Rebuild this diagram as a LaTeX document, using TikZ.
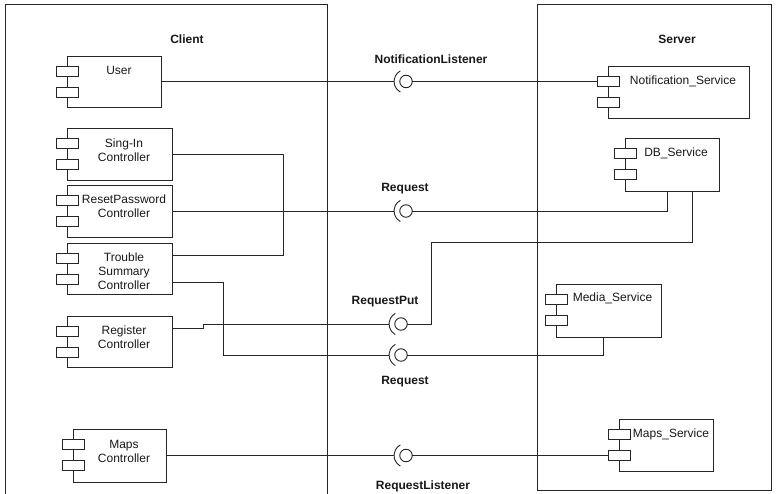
\documentclass[tikz,border=0pt]{standalone}
\usepackage{fontspec}
\setmainfont{Liberation Sans}
\usetikzlibrary{calc}
\tikzset{
 wire/.style={draw=black!85, line width=0.9pt},
 compbox/.style={draw=black!85, line width=0.9pt, fill=white, rectangle, inner sep=0pt, outer sep=0pt},
 port/.style={draw=black!85, line width=0.9pt, fill=white, rectangle, minimum width=22pt, minimum height=10pt, inner sep=0pt, outer sep=0pt},
 ctext/.style={font=\fontsize{12}{14}\selectfont, align=center, inner sep=0pt, text=black!90},
 ltext/.style={font=\fontsize{12}{14}\selectfont\bfseries, inner sep=0pt, text=black!90},
 ball/.style={circle, draw=black!85, line width=0.9pt, fill=white, minimum size=12.5pt, inner sep=0pt, outer sep=0pt},
 frame/.style={draw=black!85, line width=0.9pt, rectangle, inner sep=0pt, anchor=north west},
}
\newcommand\mycomp[8]{%
 \node[compbox, minimum width={(#4)-(#2)}, minimum height={(#5)-(#3)}] (#1) at ({((#2)+(#4))/2},{((#3)+(#5))/2}) {};
 \node[port] (#1-p1) at (#2,#3+15.5) {};
 \node[port] (#1-p2) at (#2,#3+36.5) {};
 \node[ctext] (#1-t) at (#6,#7) {#8};
}
\newcommand\mysock[3]{%
 \node[ball] (#1) at (#2,#3) {};
 \draw[wire] (#1.center) ++(118:12) arc (118:242:12);
 \coordinate (#1-w) at ($(#1.center)+(-12,0)$);
}
\begin{document}
\begin{tikzpicture}[x=1pt,y=-1pt]
\useasboundingbox (0,0) rectangle (776,494);
\fill[white] (0,0) rectangle (776,494);

% frames
\node[frame, minimum width=322pt, minimum height=520pt] (client) at (5,4) {};
\node[frame, minimum width=234pt, minimum height=486pt] (server) at (537,4) {};
\node[ltext] (clientT) at (187,39) {Client};
\node[ltext] (serverT) at (677,39) {Server};

% client components
\mycomp{user}{67}{56}{161}{107}{119}{70}{User}
\mycomp{signin}{67}{128}{172}{180}{124}{150.5}{Sing-In\\Controller}
\mycomp{reset}{67}{185}{172}{237}{124}{206.5}{ResetPassword\\Controller}
\mycomp{trouble}{67}{243}{172}{294}{124}{271}{Trouble\\Summary\\Controller}
\mycomp{register}{67}{316}{172}{367}{124}{337}{Register\\Controller}
\mycomp{mapsc}{73}{429}{166}{482}{124}{451.5}{Maps\\Controller}

% server components
\mycomp{notif}{608}{66}{749}{118}{683}{81}{Notification\_Service}
\mycomp{db}{625}{138}{719}{191}{676}{153}{DB\_Service}
\mycomp{media}{556}{284}{661}{337}{612.5}{298}{Media\_Service}
\mycomp{mapss}{619}{419}{713}{471}{671}{434}{Maps\_Service}

% sockets
\mysock{s1}{406}{81.5}
\mysock{s2}{406}{211}
\mysock{s3}{401}{324}
\mysock{s4}{401}{355}
\mysock{s5}{406}{455.5}

\node[ltext] (s1L) at (431,59) {NotificationListener};
\node[ltext] (s2L) at (405,189) {Request};
\node[ltext] (s3L) at (385,302) {RequestPut};
\node[ltext] (s4L) at (405,382) {Request};
\node[ltext] (s5L) at (423,486) {RequestListener};

% junction coordinates
\coordinate (j1) at (283,211);
\coordinate (j3) at (223,355);
\coordinate (j4) at (431,242);
\coordinate (rstep) at (203,328);

% connectors
\draw[wire] (user.east) -- (s1-w);
\draw[wire] (s1.east) -- (notif-p1.west);

\draw[wire] (reset.east) -- (s2-w);
\draw[wire] (signin.east) -| (j1);
\draw[wire] ($(trouble.north east)+(0,12)$) -| (j1);
\draw[wire] (s2.east) -| ($(db.south west)!0.45!(db.south east)$);

\draw[wire] ($(register.north east)+(0,12)$) -- (rstep) -- (rstep |- s3-w) -- (s3-w);
\draw[wire] (s3.east) -| (j4) -| ($(db.south west)!0.72!(db.south east)$);

\draw[wire] ($(trouble.north east)+(0,39)$) -| (j3) -- (s4-w);
\draw[wire] (s4.east) -| ($(media.south west)!0.45!(media.south east)$);

\draw[wire] (mapsc.east) -- (s5-w);
\draw[wire] (s5.east) -- (mapss-p2.west);
\end{tikzpicture}
\end{document}
